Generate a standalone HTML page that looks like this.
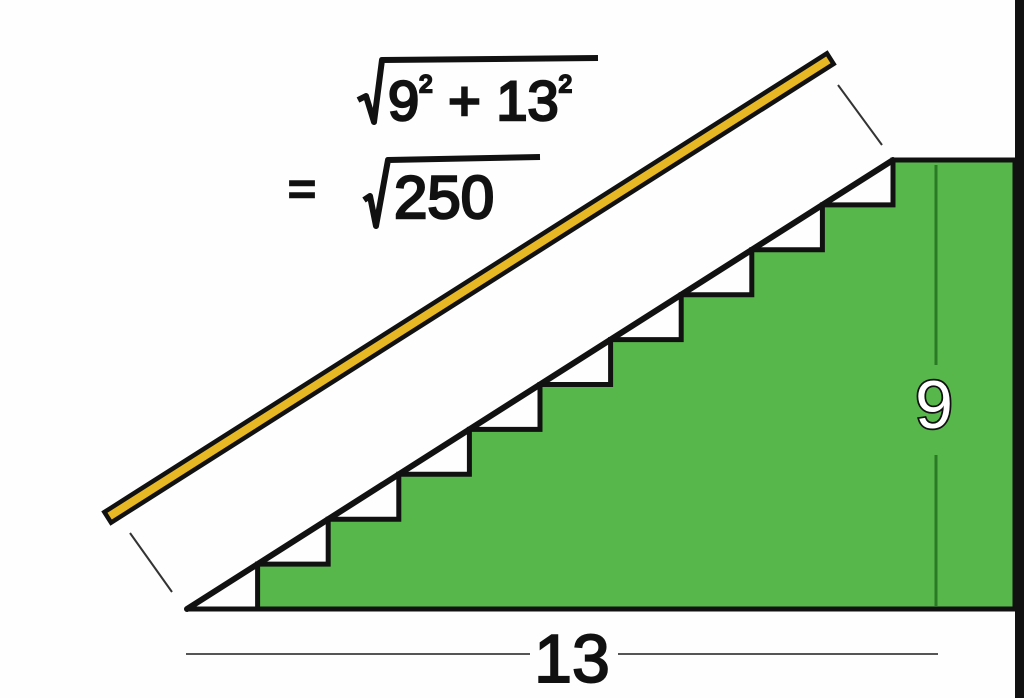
<!DOCTYPE html>
<html><head><meta charset="utf-8">
<style>
html,body{margin:0;padding:0;background:#fff;}
svg{display:block;}
text{font-family:"Liberation Sans",sans-serif;}
</style></head>
<body>
<svg id="fig" width="1024" height="698" viewBox="0 0 1024 698" xmlns="http://www.w3.org/2000/svg">
  <rect x="0" y="0" width="1024" height="698" fill="#fefefe"/>
  <g id="stairs"></g>
  <rect x="1015" y="0" width="9" height="698" fill="#111"/>
  <line x1="936" y1="165" x2="936" y2="365" stroke="#2a7a25" stroke-width="3"/>
  <line x1="936" y1="455" x2="936" y2="606" stroke="#2a7a25" stroke-width="3"/>
  <text x="934" y="428" font-size="68" text-anchor="middle" fill="#fff" stroke="#111" stroke-width="3.5" paint-order="stroke">9</text>
  <line x1="186" y1="654" x2="530" y2="654" stroke="#555" stroke-width="2"/>
  <line x1="618" y1="654" x2="938" y2="654" stroke="#555" stroke-width="2"/>
  <text x="572" y="682" font-size="68" text-anchor="middle" fill="#111" stroke="#111" stroke-width="2">13</text>
  <line x1="130" y1="533" x2="172" y2="592" stroke="#333" stroke-width="2"/>
  <line x1="838" y1="85" x2="882" y2="145" stroke="#333" stroke-width="2"/>
  <line x1="113" y1="514" x2="825" y2="62" stroke="#111" stroke-width="17" stroke-linecap="square"/>
  <line x1="113" y1="514" x2="825" y2="62" stroke="#e8b824" stroke-width="8" stroke-linecap="square"/>
  <g>
    <path d="M358 100 L366 96 L374 122 L382 60 L598 58" fill="none" stroke="#111" stroke-width="6" stroke-linejoin="round"/>
    <text x="388" y="120" font-size="56" fill="#111" stroke="#111" stroke-width="2.5">9<tspan font-size="24" dy="-28">2</tspan><tspan font-size="56" dy="28"> + 13</tspan><tspan font-size="24" dy="-28">2</tspan></text>
    <text x="288" y="205" font-size="48" fill="#111" stroke="#111" stroke-width="2.5">=</text>
    <path d="M364 200 L370 196 L376 226 L388 160 L540 157" fill="none" stroke="#111" stroke-width="6" stroke-linejoin="round"/>
    <text x="394" y="218" font-size="60" fill="#111" stroke="#111" stroke-width="2.5">250</text>
  </g>
</svg>
<script>
const stepCount = 10;
const riseTotal = 9;
const runTotal = 13;

const x0 = 187, y0 = 609, xEnd = 893, yTop = 160, xRight = 1015;
const sx = (xEnd - x0) / runTotal, sy = (y0 - yTop) / riseTotal;
const X = v => x0 + v * sx;
const Y = v => y0 - v * sy;
const NS = "http://www.w3.org/2000/svg";
const g = document.getElementById('stairs');
const dRun = runTotal / stepCount, dRise = riseTotal / stepCount;

let pts = [[X(dRun), Y(0)]];
for (let k = 1; k <= stepCount; k++) {
  pts.push([X(k * dRun), Y(k * dRise)]);
  if (k < stepCount) pts.push([X((k + 1) * dRun), Y(k * dRise)]);
}
pts.push([xRight, Y(riseTotal)], [xRight, Y(0)]);
const poly = document.createElementNS(NS, 'polygon');
poly.setAttribute('points', pts.map(p => p.join(',')).join(' '));
poly.setAttribute('fill', '#57b74b');
poly.setAttribute('stroke', '#111');
poly.setAttribute('stroke-width', '5');
poly.setAttribute('stroke-linejoin', 'miter');


g.appendChild(poly);

const base = document.createElementNS(NS, 'line');
base.setAttribute('x1', x0); base.setAttribute('y1', y0);
base.setAttribute('x2', xRight); base.setAttribute('y2', y0);
base.setAttribute('stroke', '#111'); base.setAttribute('stroke-width', '5');


g.appendChild(base);

const hyp = document.createElementNS(NS, 'line');
hyp.setAttribute('x1', X(0)); hyp.setAttribute('y1', Y(0));
hyp.setAttribute('x2', X(runTotal)); hyp.setAttribute('y2', Y(riseTotal));
hyp.setAttribute('stroke', '#111'); hyp.setAttribute('stroke-width', '6');
hyp.setAttribute('stroke-linecap', 'round');


g.appendChild(hyp);
</script>
</body></html>
